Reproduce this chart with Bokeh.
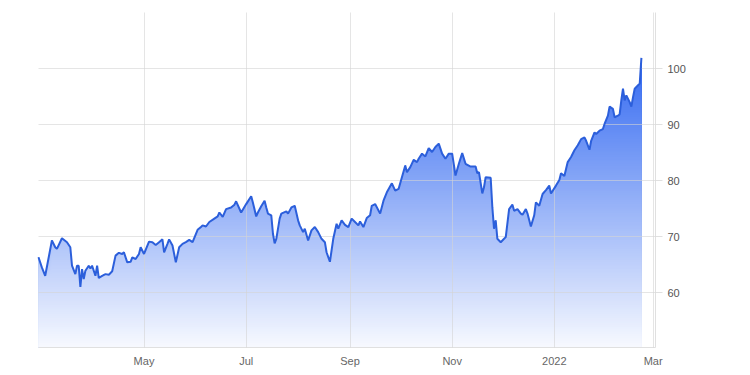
import numpy as np
import pandas as pd
from bokeh.plotting import figure
from bokeh.models import FixedTicker, Range1d, ColumnDataSource
from bokeh.embed import file_html
from bokeh.resources import INLINE

dates = [
    "2021-02-27", "2021-03-01", "2021-03-03", "2021-03-07", "2021-03-09", "2021-03-10", "2021-03-13", "2021-03-16", "2021-03-18", "2021-03-19",
    "2021-03-21", "2021-03-22", "2021-03-23", "2021-03-24", "2021-03-25", "2021-03-26", "2021-03-27", "2021-03-29", "2021-03-30", "2021-03-31",
    "2021-04-02", "2021-04-03", "2021-04-04", "2021-04-06", "2021-04-08", "2021-04-10", "2021-04-12", "2021-04-14", "2021-04-16", "2021-04-18",
    "2021-04-19", "2021-04-21", "2021-04-23", "2021-04-24", "2021-04-26", "2021-04-28", "2021-04-29", "2021-05-01", "2021-05-04", "2021-05-06",
    "2021-05-08", "2021-05-10", "2021-05-12", "2021-05-13", "2021-05-15", "2021-05-16", "2021-05-18", "2021-05-20", "2021-05-22", "2021-05-24",
    "2021-05-26", "2021-05-28", "2021-05-30", "2021-06-02", "2021-06-04", "2021-06-05", "2021-06-07", "2021-06-09", "2021-06-12", "2021-06-14",
    "2021-06-15", "2021-06-17", "2021-06-19", "2021-06-22", "2021-06-24", "2021-06-25", "2021-06-28", "2021-07-01", "2021-07-04", "2021-07-05",
    "2021-07-07", "2021-07-08", "2021-07-10", "2021-07-12", "2021-07-13", "2021-07-14", "2021-07-16", "2021-07-17", "2021-07-18", "2021-07-19",
    "2021-07-21", "2021-07-22", "2021-07-25", "2021-07-26", "2021-07-28", "2021-07-30", "2021-08-01", "2021-08-02", "2021-08-04", "2021-08-05",
    "2021-08-07", "2021-08-09", "2021-08-11", "2021-08-13", "2021-08-15", "2021-08-17", "2021-08-18", "2021-08-20", "2021-08-22", "2021-08-24",
    "2021-08-25", "2021-08-27", "2021-08-29", "2021-08-31", "2021-09-02", "2021-09-04", "2021-09-06", "2021-09-07", "2021-09-09", "2021-09-11",
    "2021-09-13", "2021-09-14", "2021-09-16", "2021-09-19", "2021-09-21", "2021-09-23", "2021-09-26", "2021-09-28", "2021-09-30", "2021-10-02",
    "2021-10-04", "2021-10-05", "2021-10-07", "2021-10-09", "2021-10-11", "2021-10-12", "2021-10-14", "2021-10-16", "2021-10-18", "2021-10-20",
    "2021-10-22", "2021-10-24", "2021-10-26", "2021-10-28", "2021-10-30", "2021-11-01", "2021-11-03", "2021-11-05", "2021-11-07", "2021-11-09",
    "2021-11-12", "2021-11-15", "2021-11-16", "2021-11-17", "2021-11-19", "2021-11-20", "2021-11-21", "2021-11-24", "2021-11-25", "2021-11-26",
    "2021-11-27", "2021-11-28", "2021-11-30", "2021-12-02", "2021-12-03", "2021-12-05", "2021-12-07", "2021-12-08", "2021-12-10", "2021-12-12",
    "2021-12-13", "2021-12-15", "2021-12-16", "2021-12-18", "2021-12-20", "2021-12-21", "2021-12-23", "2021-12-25", "2021-12-27", "2021-12-29",
    "2021-12-30", "2022-01-02", "2022-01-04", "2022-01-05", "2022-01-07", "2022-01-09", "2022-01-11", "2022-01-13", "2022-01-15", "2022-01-17",
    "2022-01-19", "2022-01-20", "2022-01-22", "2022-01-23", "2022-01-25", "2022-01-26", "2022-01-28", "2022-01-30", "2022-01-31", "2022-02-02",
    "2022-02-03", "2022-02-05", "2022-02-06", "2022-02-08", "2022-02-09", "2022-02-10", "2022-02-11", "2022-02-12", "2022-02-13", "2022-02-15",
    "2022-02-16", "2022-02-17", "2022-02-18", "2022-02-20", "2022-02-21", "2022-02-22",
]

values = [
    66.3, 64.5, 63.0, 69.3, 68.1, 67.8, 69.7, 69.0, 68.1, 64.8,
    63.3, 64.8, 64.8, 61.0, 64.2, 62.4, 63.9, 64.8, 64.3, 64.8,
    63.0, 64.8, 62.6, 63.0, 63.3, 63.2, 63.8, 66.6, 67.1, 66.9,
    67.2, 65.4, 65.5, 66.3, 66.0, 66.9, 68.1, 66.9, 69.1, 69.0,
    68.5, 69.0, 69.5, 67.2, 68.7, 69.5, 68.4, 65.4, 68.1, 68.7,
    69.0, 69.4, 69.0, 71.2, 71.7, 72.0, 71.8, 72.6, 73.2, 73.6,
    74.3, 73.5, 74.9, 75.2, 75.7, 76.3, 74.3, 75.8, 77.2, 76.1,
    73.6, 74.3, 75.4, 76.4, 75.2, 74.1, 73.8, 70.5, 68.8, 69.6,
    73.2, 74.1, 74.5, 74.1, 75.2, 75.5, 72.9, 72.0, 70.8, 71.4,
    69.3, 71.1, 71.7, 70.8, 69.6, 69.0, 67.2, 65.5, 69.6, 72.3,
    71.4, 72.9, 72.1, 71.7, 73.2, 72.6, 72.0, 72.7, 71.7, 73.3,
    73.8, 75.5, 75.8, 74.1, 76.4, 77.9, 79.5, 78.2, 78.5, 80.6,
    82.7, 81.5, 82.4, 83.7, 83.3, 83.9, 84.8, 84.3, 85.8, 85.1,
    86.0, 86.6, 84.8, 83.9, 84.8, 84.8, 80.9, 83.0, 84.9, 83.0,
    82.5, 82.5, 81.3, 81.5, 77.7, 78.8, 80.6, 80.5, 75.2, 71.4,
    72.9, 69.6, 69.0, 69.6, 69.9, 74.9, 75.7, 74.6, 74.9, 74.1,
    73.9, 74.9, 74.1, 71.8, 73.8, 76.1, 75.5, 77.6, 78.3, 79.1,
    77.7, 79.1, 80.1, 81.3, 80.8, 83.3, 84.2, 85.4, 86.3, 87.4,
    87.7, 87.1, 85.5, 87.1, 88.6, 88.3, 88.9, 89.2, 90.1, 91.6,
    93.2, 92.8, 91.3, 91.6, 91.8, 94.3, 96.4, 94.3, 95.2, 94.0,
    93.2, 94.9, 96.4, 97.0, 97.3, 101.9,
]

tick_dates = ["2021-05-01", "2021-07-01", "2021-09-01", "2021-11-01", "2022-01-01", "2022-03-01"]
tick_labels = ["May", "Jul", "Sep", "Nov", "2022", "Mar"]
y_ticks = [60, 70, 80, 90, 100]
y_grid = [60, 70, 80, 90, 100, 110]

x = pd.to_datetime(dates)
v = np.array(values, dtype=float)

Y_LO, Y_HI = 50.2, 110.0
x_start = pd.Timestamp("2021-02-27")
x_end = pd.Timestamp("2022-03-02 10:00")

p = figure(
    frame_width=617, frame_height=335,
    x_axis_type="datetime", y_axis_location="right",
    x_range=Range1d(x_start, x_end), y_range=Range1d(Y_LO, Y_HI),
    min_border_left=38, min_border_top=12, min_border_right=60, min_border_bottom=0,
    output_backend="svg", toolbar_location=None,
    background_fill_color="white", border_fill_color="white",
)
p.outline_line_color = None

# gradient fill approximated by stacked bands (top band drawn first)
base = np.array([51, 105, 241])
vmax = v.max()
edges = np.arange(Y_LO, vmax + 0.4, 0.4)
for k in range(len(edges) - 1, 0, -1):
    hi = edges[k]
    mid = (edges[k] + edges[k - 1]) / 2.0
    a = min(max((mid - Y_LO) / (vmax - Y_LO), 0.0), 1.0)
    a = 0.04 + 0.96 * a
    col = 255 - a * (255 - base)
    colhex = "#%02x%02x%02x" % tuple(int(round(c)) for c in col)
    src = ColumnDataSource(dict(x=x, y1=np.full(len(v), Y_LO), y2=np.minimum(v, hi)))
    p.varea(x="x", y1="y1", y2="y2", source=src, fill_color=colhex, fill_alpha=1.0)

line = p.line(x, v, line_color="#2c5fdb", line_width=2)
line.level = "overlay"

tick_ms = [float(pd.Timestamp(d).value // 10**6) for d in tick_dates]

# grids
p.xgrid.ticker = FixedTicker(ticks=tick_ms)
p.ygrid.ticker = FixedTicker(ticks=y_grid)
for g in (p.xgrid, p.ygrid):
    g.grid_line_color = "#d4d4d4"
    g.grid_line_alpha = 0.6
    g.grid_line_width = 1
    g.level = "annotation"

# x axis
xa = p.xaxis[0]
xa.ticker = FixedTicker(ticks=tick_ms)
xa.major_label_overrides = {t: lab for t, lab in zip(tick_ms, tick_labels)}
xa.axis_line_color = "#e0e0e0"
xa.major_tick_out = 0
xa.major_tick_in = 0
xa.minor_tick_out = 0
xa.minor_tick_in = 0
xa.major_label_standoff = 7
xa.major_label_text_font = "Liberation Sans"
xa.major_label_text_font_size = "11px"
xa.major_label_text_color = "#666666"

# y axis (right)
ya = p.yaxis[0]
ya.ticker = FixedTicker(ticks=y_ticks)
ya.axis_line_color = "#e0e0e0"
ya.major_tick_out = 7
ya.major_tick_in = 0
ya.major_tick_line_color = "#e0e0e0"
ya.minor_tick_out = 0
ya.minor_tick_in = 0
ya.major_label_standoff = 5
ya.major_label_text_font = "Liberation Sans"
ya.major_label_text_font_size = "11px"
ya.major_label_text_color = "#555555"

open("out.html", "w").write(file_html(p, INLINE))
